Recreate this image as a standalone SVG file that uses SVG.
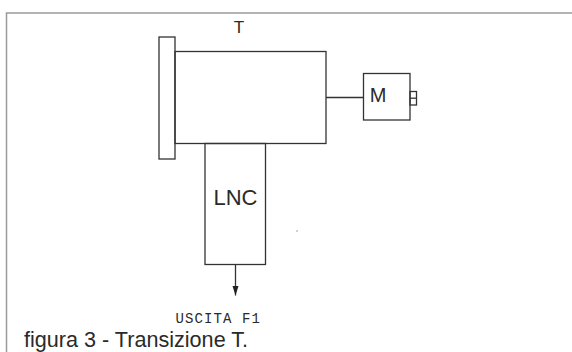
<svg xmlns="http://www.w3.org/2000/svg" width="572" height="352" viewBox="0 0 572 352">
<style>
.s{fill:none;stroke:#333;stroke-width:1.3}
.b{fill:none;stroke:#9a9a9a;stroke-width:1.5}
.t{font-family:"Liberation Sans",Arial,sans-serif;fill:#2a2a2a}
.m{font-family:"Liberation Mono","Courier New",monospace;fill:#2a2a2a}
</style>
<defs>
<marker id="ah" markerWidth="10" markerHeight="7" refX="9.5" refY="3" orient="auto" markerUnits="userSpaceOnUse">
<path d="M0,0 L9.5,3 L0,6 z" fill="#222"/>
</marker>
</defs>
<g id="border">
<polyline class="b" points="6.5,352 6.5,13 572,13"/>
</g>
<g id="flange">
<rect class="s" x="159" y="37" width="16" height="122"/>
</g>
<g id="transition-T">
<rect class="s" x="175" y="51.5" width="151" height="92"/>
<text class="t" x="239" y="33" font-size="17" text-anchor="middle">T</text>
</g>
<g id="motor-M">
<rect class="s" x="363.5" y="73.5" width="46.5" height="46.5"/>
<rect class="s" x="410" y="91.5" width="6.5" height="13.5"/>
<line class="s" x1="410" y1="98.2" x2="416.5" y2="98.2"/>
<text class="t" x="378" y="102" font-size="20" text-anchor="middle">M</text>
</g>
<g id="LNC">
<rect class="s" x="205" y="143.5" width="60.5" height="121"/>
<text class="t" x="235.5" y="205" font-size="22" text-anchor="middle">LNC</text>
</g>
<g id="connectors">
<line class="s" x1="326" y1="97.5" x2="363.5" y2="97.5"/>
<line class="s" x1="235.5" y1="264.5" x2="235.5" y2="295.5" marker-end="url(#ah)"/>
</g>
<circle cx="297" cy="231" r="0.9" fill="#bbb"/>
<text class="m" x="175.5" y="322.5" font-size="14" textLength="84.5" lengthAdjust="spacing">USCITA F1</text>
<text class="t" x="24" y="347" font-size="21.6">figura 3 - Transizione T.</text>
</svg>
